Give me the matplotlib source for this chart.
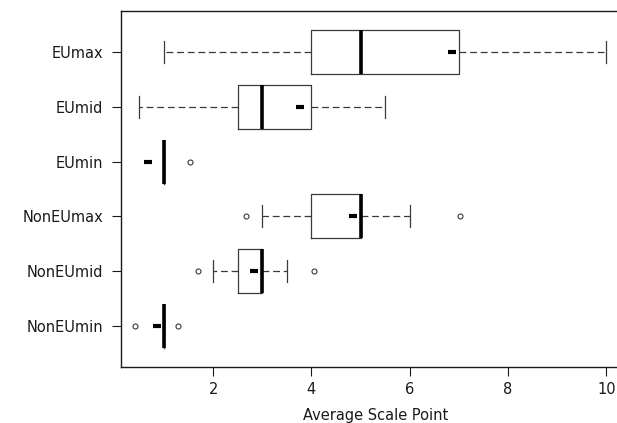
import matplotlib
matplotlib.use("Agg")
from matplotlib import pyplot

# data (one entry per row, top to bottom)
labels = ["EUmax", "EUmid", "EUmin", "NonEUmax", "NonEUmid", "NonEUmin"]
whislo = [1.0, 0.5, 1.0, 3.0, 2.0, 1.0]
q1 = [4.0, 2.5, 1.0, 4.0, 2.5, 1.0]
med = [5.0, 3.0, 1.0, 5.0, 3.0, 1.0]
q3 = [7.0, 4.0, 1.0, 5.0, 3.0, 1.0]
whishi = [10.0, 5.5, 1.0, 6.0, 3.5, 1.0]
means = [6.85, 3.76, 0.67, 4.84, 2.84, 0.86]
fliers = [[], [], [1.52], [2.67, 7.03], [1.69, 4.05], [0.42, 1.29]]

xticks = [2, 4, 6, 8, 10]
xlabel = "Average Scale Point"

pyplot.rcParams["font.family"] = ["DejaVu Sans"]
ink = "#1a1a1a"
edge = "#3a3a3a"

stats = []
for i in range(len(labels)):
    stats.append(dict(label=labels[i], whislo=whislo[i], q1=q1[i], med=med[i],
                      q3=q3[i], whishi=whishi[i], mean=means[i], fliers=fliers[i]))

fig = pyplot.figure(figsize=(6.17, 4.23), dpi=100)
# axes runs a bit past the right edge, like the cropped original
ax = fig.add_axes([0.1956, 0.1324, 0.827, 0.8416])

positions = list(range(len(labels), 0, -1))
ax.bxp(stats, positions=positions, orientation="horizontal", widths=0.8,
       capwidths=0.4, showmeans=True, patch_artist=False,
       boxprops=dict(color=edge, linewidth=0.9),
       whiskerprops=dict(color=edge, linewidth=0.9, linestyle=(0, (5.5, 3))),
       capprops=dict(color=edge, linewidth=0.9),
       medianprops=dict(color="black", linewidth=2.6, solid_capstyle="butt"),
       meanprops=dict(marker="_", markersize=5.5, markeredgewidth=3,
                      markeredgecolor="black", markerfacecolor="black"),
       flierprops=dict(marker="o", markersize=3.6, markerfacecolor="none",
                       markeredgecolor=edge, markeredgewidth=0.8))

ax.set_xlim(0.12, 10.5)
ax.set_ylim(0.26, 6.74)
ax.set_xticks(xticks)
ax.set_xticklabels([str(t) for t in xticks])
ax.set_yticks(positions)
ax.set_yticklabels(labels)
ax.tick_params(axis="both", direction="out", length=6.5, width=0.8,
               colors=ink, labelsize=10.5)
ax.tick_params(axis="x", pad=4)
ax.tick_params(axis="y", pad=6)
ax.set_xlabel(xlabel, fontsize=10.5, color=ink, labelpad=8.5)
for side in ["left", "bottom", "top", "right"]:
    ax.spines[side].set_color(ink)
    ax.spines[side].set_linewidth(1.0)

fig.savefig("out.png", dpi=100)
pyplot.close(fig)
